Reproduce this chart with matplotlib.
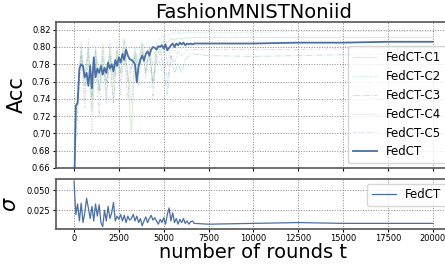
import numpy as np
import matplotlib
matplotlib.use('Agg')
import matplotlib.pyplot as plt

# rounds: dense sampling during the noisy phase, sparse afterwards
rounds_dense = list(range(0, 6800, 100))
rounds_tail = [7500, 10000, 12500, 15000, 17500, 20000]
rounds_fed = rounds_dense + rounds_tail

client_dense = list(range(0, 6800, 200))
rounds_client = client_dense + rounds_tail

fedct_acc = [0.620, 0.732, 0.735, 0.775, 0.780, 0.778, 0.765, 0.770, 0.755, 0.778,
             0.752, 0.788, 0.765, 0.775, 0.770, 0.778, 0.768, 0.776, 0.770, 0.782,
             0.775, 0.780, 0.772, 0.785, 0.778, 0.788, 0.782, 0.792, 0.785, 0.797,
             0.790, 0.786, 0.785, 0.783, 0.780, 0.759, 0.778, 0.785, 0.790, 0.784,
             0.792, 0.795, 0.790, 0.797, 0.800, 0.799, 0.797, 0.801, 0.800, 0.802,
             0.798, 0.803, 0.796, 0.799, 0.802, 0.804, 0.800, 0.804, 0.802, 0.805,
             0.803, 0.805, 0.802, 0.804, 0.803, 0.804, 0.803, 0.804,
             0.804, 0.804, 0.805, 0.805, 0.806, 0.806]

fedct_sigma = [0.061, 0.020, 0.033, 0.012, 0.034, 0.010, 0.022, 0.040, 0.028, 0.015,
               0.030, 0.012, 0.033, 0.018, 0.032, 0.010, 0.005, 0.025, 0.012, 0.030,
               0.015, 0.022, 0.035, 0.012, 0.018, 0.014, 0.020, 0.012, 0.019, 0.010,
               0.018, 0.013, 0.015, 0.020, 0.012, 0.018, 0.010, 0.015, 0.006, 0.012,
               0.017, 0.010, 0.015, 0.019, 0.013, 0.016, 0.012, 0.008, 0.014, 0.010,
               0.016, 0.008, 0.020, 0.028, 0.012, 0.022, 0.010, 0.015, 0.008, 0.014,
               0.010, 0.015, 0.009, 0.012, 0.008, 0.011, 0.012, 0.009,
               0.008, 0.009, 0.010, 0.009, 0.009, 0.009]

c1_acc = [0.700, 0.745, 0.795, 0.760, 0.800, 0.725, 0.790, 0.745, 0.805, 0.760,
          0.795, 0.735, 0.800, 0.770, 0.810, 0.765, 0.700, 0.795, 0.780, 0.805,
          0.770, 0.800, 0.755, 0.795, 0.802, 0.808, 0.805, 0.810, 0.808, 0.810,
          0.809, 0.811, 0.810, 0.811,
          0.811, 0.811, 0.811, 0.811, 0.811, 0.811]
c2_acc = [0.690, 0.740, 0.800, 0.770, 0.790, 0.750, 0.800, 0.765, 0.785, 0.740,
          0.800, 0.770, 0.795, 0.780, 0.808, 0.790, 0.775, 0.800, 0.785, 0.805,
          0.790, 0.795, 0.780, 0.805, 0.810, 0.812, 0.814, 0.815, 0.816, 0.816,
          0.817, 0.817, 0.817, 0.817,
          0.817, 0.817, 0.818, 0.818, 0.818, 0.818]
c3_acc = [0.680, 0.750, 0.790, 0.755, 0.780, 0.740, 0.795, 0.750, 0.780, 0.760,
          0.790, 0.765, 0.785, 0.770, 0.795, 0.760, 0.780, 0.790, 0.770, 0.795,
          0.780, 0.790, 0.760, 0.785, 0.800, 0.775, 0.745, 0.790, 0.770, 0.780,
          0.770, 0.785, 0.790, 0.792,
          0.790, 0.789, 0.790, 0.791, 0.792, 0.793]
c4_acc = [0.670, 0.735, 0.805, 0.740, 0.810, 0.700, 0.800, 0.750, 0.795, 0.735,
          0.805, 0.760, 0.790, 0.745, 0.800, 0.770, 0.735, 0.795, 0.775, 0.800,
          0.765, 0.790, 0.760, 0.800, 0.790, 0.805, 0.780, 0.800, 0.795, 0.800,
          0.798, 0.800, 0.800, 0.800,
          0.799, 0.799, 0.800, 0.800, 0.800, 0.800]
c5_acc = [0.660, 0.720, 0.790, 0.730, 0.800, 0.740, 0.780, 0.720, 0.790, 0.750,
          0.780, 0.735, 0.795, 0.760, 0.785, 0.740, 0.775, 0.790, 0.755, 0.795,
          0.770, 0.800, 0.740, 0.790, 0.780, 0.795, 0.760, 0.790, 0.780, 0.795,
          0.790, 0.796, 0.797, 0.797,
          0.797, 0.797, 0.797, 0.798, 0.798, 0.798]

client_names = ['FedCT-C1', 'FedCT-C2', 'FedCT-C3', 'FedCT-C4', 'FedCT-C5']
client_colors = ['#a6d99a', '#9fdcd2', '#7fbfbf', '#a0a0b8', '#a9a9d6']
client_styles = ['-', '--', '-.', ':', (0, (3, 2, 1, 2))]
blue = '#4a6fa5'

fig = plt.figure(figsize=(4.45, 2.64), dpi=100)
ax1 = fig.add_axes([0.126, 0.364, 0.887, 0.553])
ax2 = fig.add_axes([0.126, 0.133, 0.887, 0.189], sharex=ax1)

for vals, name, c, ls in zip([c1_acc, c2_acc, c3_acc, c4_acc, c5_acc],
                             client_names, client_colors, client_styles):
    ax1.plot(rounds_client, vals, color=c, ls=ls, lw=0.7, alpha=0.45, label=name)
ax1.plot(rounds_fed, fedct_acc, color=blue, lw=1.3, label='FedCT')
ax1.set_ylim(0.66, 0.829)
ax1.set_yticks(np.arange(0.66, 0.821, 0.02))
ax1.set_ylabel('Acc', fontsize=15, labelpad=4)
ax1.set_title('FashionMNISTNoniid', fontsize=14, pad=2)
ax1.legend(loc='lower right', fontsize=8.5, borderaxespad=0.4)
plt.setp(ax1.get_xticklabels(), visible=False)

ax2.plot(rounds_fed, fedct_sigma, color=blue, lw=0.9, label='FedCT')
ax2.set_yticks([0.025, 0.050])
ax2.set_ylabel(r'$\sigma$', fontsize=15, labelpad=5)
ax2.set_xlabel('number of rounds t', fontsize=14, labelpad=0)
ax2.legend(loc='upper right', fontsize=8.5, borderaxespad=0.4)
ax2.set_xlim(-1000, 21000)

for ax in (ax1, ax2):
    ax.grid(True, ls=':', color='#888888', lw=0.7)
    ax.tick_params(labelsize=6, length=2, pad=2)
    for s in ax.spines.values():
        s.set_color('#555555')
        s.set_linewidth(1.2)

fig.savefig('out.png', dpi=100)
